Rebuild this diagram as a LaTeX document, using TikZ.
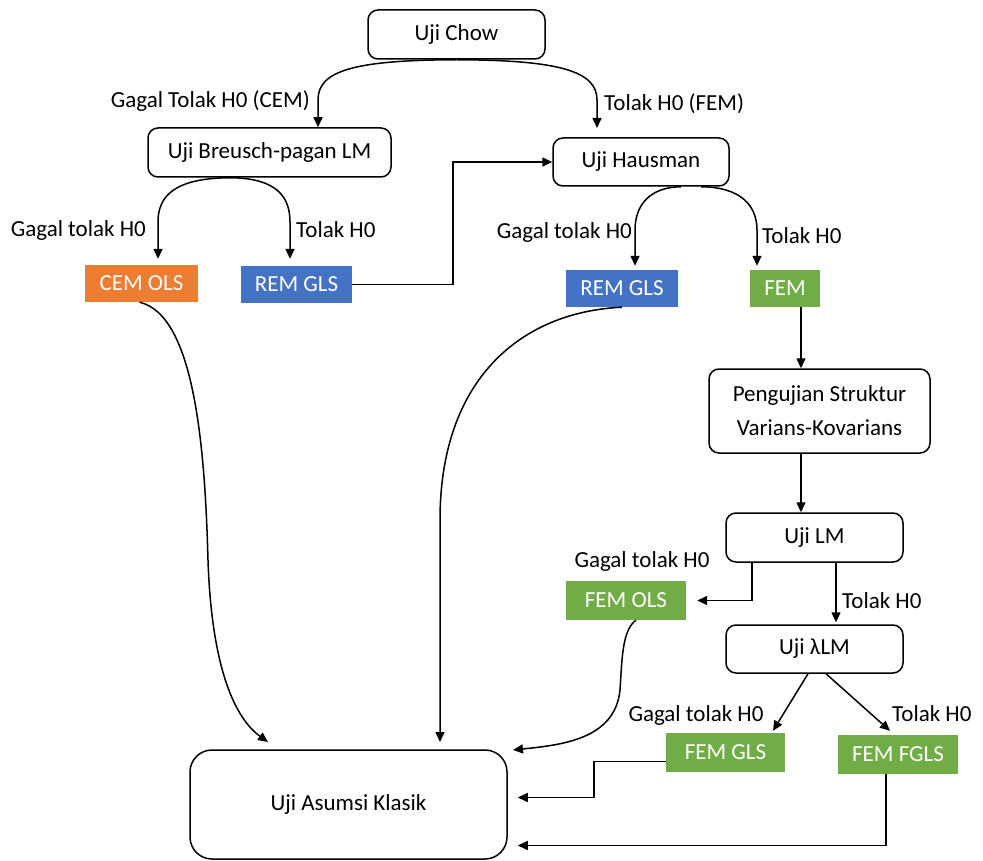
\documentclass[tikz,border=0pt]{standalone}
\usepackage{fontspec}
\setmainfont{Carlito}
\usetikzlibrary{arrows.meta}
\definecolor{cemor}{HTML}{ED7D31}
\definecolor{remblue}{HTML}{4472C4}
\definecolor{femgreen}{HTML}{70AD47}
\begin{document}
\begin{tikzpicture}[x=1pt,y=-1pt,
  every node/.style={font=\fontsize{23}{34}\selectfont},
  rbox/.style={draw, line width=1.5pt, rounded corners=10pt, fill=white, align=center, inner sep=0pt},
  cbox/.style={inner sep=0pt, text=white},
  lbl/.style={inner sep=0pt},
  conn/.style={line width=1.5pt, -{Triangle[width=9pt,length=10pt]}}]
\useasboundingbox (0,0) rectangle (983,861);
% boxes
\node[rbox, minimum width=177, minimum height=49] (chow) at (456.5,34.5) {Uji Chow};
\node[rbox, minimum width=243, minimum height=49] (bp) at (269.5,152.5) {Uji Breusch-pagan LM};
\node[rbox, minimum width=176, minimum height=48] (haus) at (641,162) {Uji Hausman};
\node[cbox, fill=cemor, minimum width=113, minimum height=37] (cem) at (141.5,283.5) {CEM OLS};
\node[cbox, fill=remblue, minimum width=111, minimum height=37] (rem1) at (296.5,284.5) {REM GLS};
\node[cbox, fill=remblue, minimum width=112, minimum height=37] (rem2) at (622,288.5) {REM GLS};
\node[cbox, fill=femgreen, minimum width=70, minimum height=37] (fem) at (785,288.5) {FEM};
\node[rbox, minimum width=221, minimum height=84] (pvk) at (819.5,411) {Pengujian Struktur\\Varians-Kovarians};
\node[rbox, minimum width=177, minimum height=49] (lm) at (814.5,537.5) {Uji LM};
\node[cbox, fill=femgreen, minimum width=120, minimum height=39] (femols) at (626,600.5) {FEM OLS};
\node[rbox, minimum width=177, minimum height=48] (llm) at (814.5,649) {Uji λLM};
\node[cbox, fill=femgreen, minimum width=119, minimum height=39] (femgls) at (725.5,752.5) {FEM GLS};
\node[cbox, fill=femgreen, minimum width=120, minimum height=39] (femfgls) at (898,754.5) {FEM FGLS};
\node[rbox, minimum width=317, minimum height=109, rounded corners=22pt] (uak) at (348.5,804.5) {Uji Asumsi Klasik};
% labels
\node[lbl, anchor=east] (l1) at (310,101) {Gagal Tolak H0 (CEM)};
\node[lbl, anchor=west] (l2) at (604,104) {Tolak H0 (FEM)};
\node[lbl, anchor=east] (l3) at (146,230) {Gagal tolak H0};
\node[lbl, anchor=west] (l4) at (296,230) {Tolak H0};
\node[lbl, anchor=east] (l5) at (632,232) {Gagal tolak H0};
\node[lbl, anchor=west] (l6) at (762,236) {Tolak H0};
\node[lbl] (l7) at (642,561) {Gagal tolak H0};
\node[lbl, anchor=west] (l8) at (842,601) {Tolak H0};
\node[lbl] (l9) at (696,715) {Gagal tolak H0};
\node[lbl, anchor=west] (l10) at (892,714) {Tolak H0};
% connectors
\draw[conn] (chow.south) .. controls (350,60) and (318,72) .. (318,100) -- ([xshift=48.5pt]bp.north);
\draw[conn] (chow.south) .. controls (562,60) and (597,72) .. (597,100) -- (597,128);
\draw[conn] ([xshift=-39.5pt]bp.south) .. controls (172,178) and (158,198) .. (158,222) -- ([yshift=6pt,xshift=16.5pt]cem.north);
\draw[conn] ([xshift=-39.5pt]bp.south) .. controls (278,178) and (290,198) .. (290,222) -- ([yshift=7pt,xshift=-6.5pt]rem1.north);
\draw[conn] (rem1.east) -- (453,284.5) |- (haus.west);
\draw[conn] ([xshift=40pt]haus.south) .. controls (650,187) and (635,205) .. (635,230) -- ([yshift=4pt,xshift=13pt]rem2.north);
\draw[conn] ([xshift=60pt]haus.south) .. controls (740,187) and (757,205) .. (757,230) -- ([yshift=4pt,xshift=-28pt]fem.north);
\draw[conn] ([xshift=16pt]fem.south) -- ([xshift=-18.5pt]pvk.north);
\draw[conn] ([xshift=-18.5pt]pvk.south) -- ([xshift=-13.5pt]lm.north);
\draw[conn] ([xshift=-62.5pt]lm.south) |- ([xshift=11pt]femols.east);
\draw[conn] ([xshift=21.5pt]lm.south) -- ([xshift=21.5pt,yshift=2pt]llm.north);
\draw[conn] ([xshift=-6.5pt]llm.south) -- ([xshift=47.5pt,yshift=2pt]femgls.north);
\draw[conn] ([xshift=11.5pt]llm.south) -- ([xshift=-8pt,yshift=4pt]femfgls.north);
\draw[conn] ([yshift=-9pt]femgls.west) -- (594,761.5) |- ([xshift=10pt,yshift=7pt]uak.east);
\draw[conn] ([xshift=-12pt]femfgls.south) |- ([xshift=10pt,yshift=-41pt]uak.east);
\draw[conn] ([xshift=-2pt]cem.south) .. controls (195,315) and (205,450) .. (208,560) .. controls (212,680) and (240,722) .. (268,742);
\draw[conn] (rem2.south) .. controls (520,312) and (440,380) .. (440,520) -- (440,742);
\draw[conn] ([xshift=10pt]femols.south) .. controls (622,630) and (622,660) .. (620,690) .. controls (615,740) and (560,745) .. (513,750);
\end{tikzpicture}
\end{document}
